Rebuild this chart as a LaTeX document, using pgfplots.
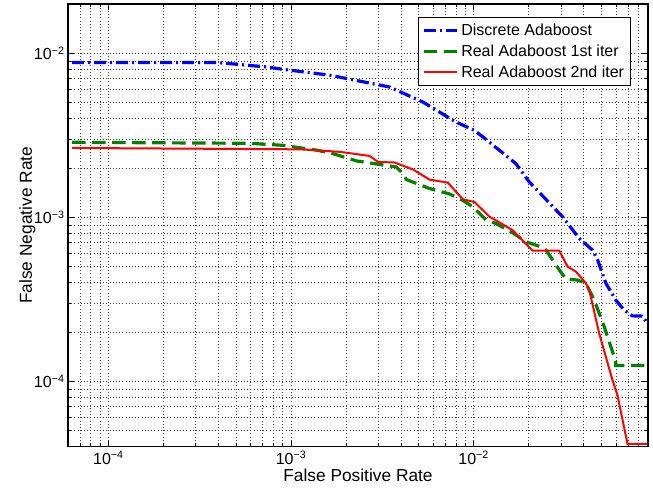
\documentclass[border=0pt]{standalone}
\usepackage{fontspec}
\setmainfont{Liberation Sans}
\usepackage{pgfplots}
\pgfplotsset{compat=1.18}

\definecolor{mblue}{RGB}{0,0,255}
\definecolor{mgreen}{RGB}{0,128,0}
\definecolor{mred}{RGB}{255,0,0}

\begin{document}
\begin{tikzpicture}
\begin{axis}[
  xmode=log, ymode=log,
  scale only axis,
  width=435pt, height=332pt,
  xmin=6e-5, xmax=0.09,
  ymin=4e-5, ymax=2e-2,
  axis line style={line width=0.9pt},
  every tick/.style={black, line width=0.5pt},
  major tick length=4.5pt, minor tick length=2.5pt,
  grid=both,
  major grid style={dotted, black!75, line width=0.5pt},
  minor grid style={dotted, black!75, line width=0.5pt},
  /pgf/number format/assume math mode=true,
  log number format basis/.code 2 args={\pgfmathtruncatemacro\myexp{abs(round(#2))}10\textsuperscript{\textminus\myexp}},
  tick label style={font=\fontsize{12}{14}\selectfont},
  yticklabel style={xshift=1pt},
  xlabel={False Positive Rate},
  ylabel={False Negative Rate},
  label style={font=\fontsize{13}{15}\selectfont},
  xlabel style={yshift=4pt},
  ylabel style={yshift=-8pt},
  legend cell align=left,
  legend style={at={(0.97,0.97)}, anchor=north east, draw=black, line width=0.8pt,
    font=\fontsize{12}{14.5}\selectfont, row sep=1.5pt, inner sep=2.5pt,
    nodes={inner xsep=2pt}},
  legend image code/.code={\draw[#1] plot coordinates {(0cm,0cm) (0.88cm,0cm)};},
]
\addplot[mblue, line width=2.4pt, dash pattern=on 9pt off 3pt on 1.5pt off 3pt] coordinates {
  (6.33e-5, 8.79e-3) (3.97e-4, 8.79e-3) (7.36e-4, 8.26e-3) (9.0e-4, 8.0e-3)
  (1.63e-3, 7.36e-3) (3.45e-3, 6.24e-3) (5.25e-3, 5.06e-3) (7.98e-3, 3.82e-3)
  (1.005e-2, 3.40e-3) (1.12e-2, 3.10e-3) (1.38e-2, 2.57e-3) (1.70e-2, 2.13e-3)
  (2.01e-2, 1.65e-3) (3.06e-2, 1.01e-3) (3.78e-2, 7.45e-4) (4.47e-2, 6.32e-4)
  (4.77e-2, 5.50e-4) (5.29e-2, 3.97e-4) (6.0e-2, 3.13e-4) (6.67e-2, 2.72e-4)
  (7.39e-2, 2.51e-4) (8.37e-2, 2.50e-4) (8.93e-2, 2.27e-4)
};
\addplot[mgreen, line width=2.4pt, dash pattern=on 10pt off 5pt] coordinates {
  (6.33e-5, 2.87e-3) (5.94e-4, 2.83e-3) (9.03e-4, 2.75e-3) (1.38e-3, 2.57e-3)
  (1.69e-3, 2.45e-3) (2.28e-3, 2.21e-3) (3.06e-3, 2.10e-3) (3.77e-3, 2.03e-3)
  (4.09e-3, 1.85e-3) (4.28e-3, 1.70e-3) (5.73e-3, 1.50e-3) (7.36e-3, 1.39e-3)
  (8.71e-3, 1.27e-3) (9.89e-3, 1.16e-3) (1.17e-2, 9.63e-4) (1.32e-2, 9.19e-4)
  (1.63e-2, 8.08e-4) (1.93e-2, 7.10e-4) (2.29e-2, 6.66e-4) (2.49e-2, 6.32e-4)
  (2.94e-2, 4.78e-4) (3.20e-2, 4.21e-4) (3.70e-2, 4.15e-4) (4.11e-2, 3.97e-4)
  (4.57e-2, 3.13e-4) (5.18e-2, 2.16e-4) (6.0e-2, 1.32e-4) (6.0e-2, 1.25e-4)
  (8.93e-2, 1.25e-4)
};
\addplot[mred, line width=1.5pt] coordinates {
  (6.33e-5, 2.65e-3) (1.12e-3, 2.60e-3) (1.85e-3, 2.51e-3) (2.69e-3, 2.37e-3)
  (2.99e-3, 2.18e-3) (3.69e-3, 2.16e-3) (4.65e-3, 1.96e-3) (5.73e-3, 1.70e-3)
  (7.21e-3, 1.63e-3) (8.71e-3, 1.29e-3) (1.01e-2, 1.24e-3) (1.22e-2, 1.01e-3)
  (1.63e-2, 8.37e-4) (2.10e-2, 6.27e-4) (2.94e-2, 6.27e-4) (3.27e-2, 5.0e-4)
  (3.63e-2, 4.67e-4) (4.11e-2, 3.97e-4) (4.29e-2, 3.61e-4) (4.86e-2, 1.97e-4)
  (5.75e-2, 1.02e-4) (6.12e-2, 8.28e-5) (6.95e-2, 4.16e-5) (8.93e-2, 4.16e-5)
};
\legend{Discrete Adaboost, Real Adaboost 1st iter, Real Adaboost 2nd iter}
\coordinate (tr) at (rel axis cs:1,1);
\coordinate (bl) at (rel axis cs:0,0);
\end{axis}
% white margins as in the reference
\path (tr) ++(3.75pt,3pt);
\path (bl) ++(-51pt,-32pt);
\end{tikzpicture}
\end{document}
